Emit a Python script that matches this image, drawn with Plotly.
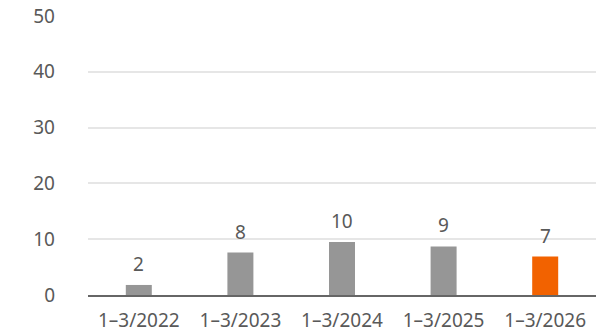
import plotly.graph_objects as go

categories = ["1–3/2022", "1–3/2023", "1–3/2024", "1–3/2025", "1–3/2026"]
values = [1.8, 7.6, 9.5, 8.7, 6.9]
labels = ["2", "8", "10", "9", "7"]
colors = ["#969696", "#969696", "#969696", "#969696", "#F26200"]

fig = go.Figure(go.Bar(
    x=categories, y=values,
    marker=dict(color=colors, line=dict(width=0)),
    width=0.256, cliponaxis=False,
))
for c, v, t in zip(categories, values, labels):
    fig.add_annotation(x=c, y=v, text=t, showarrow=False, yanchor="middle",
                       yshift=21, font=dict(size=19, color="#595959"))
fig.update_layout(
    width=596, height=336,
    margin=dict(l=88, r=0, t=16, b=40.5),
    plot_bgcolor="white", paper_bgcolor="white",
    font=dict(family="Noto Sans", size=19, color="#595959"),
    showlegend=False,
    bargap=0.744,
)
fig.update_xaxes(showline=True, linecolor="#666666", linewidth=1.5,
                 ticks="", showgrid=False, ticklabelstandoff=7,
                 tickfont=dict(size=19, color="#595959"))
fig.update_yaxes(range=[0, 50], tickvals=[0, 10, 20, 30, 40, 50],
                 showgrid=True, gridcolor="#e6e6e6", gridwidth=1.5,
                 zeroline=False, showline=False, ticks="", ticklabelstandoff=32,
                 tickfont=dict(size=19, color="#595959"))
fig.write_html("out.html")
